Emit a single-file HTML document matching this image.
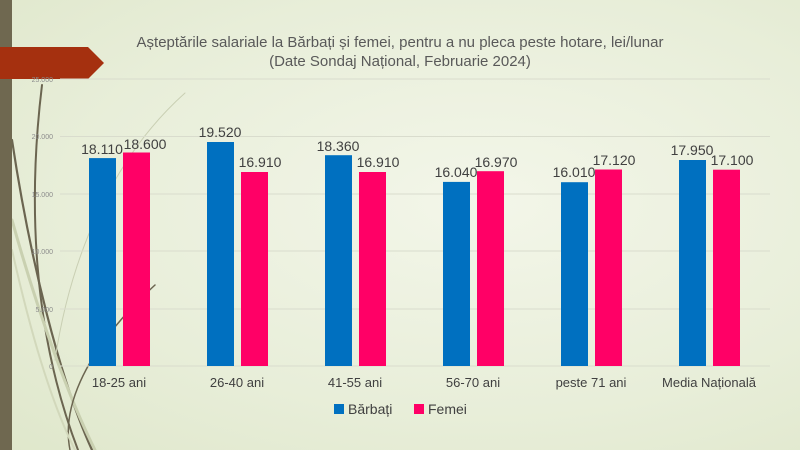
<!DOCTYPE html>
<html><head><meta charset="utf-8"><style>
body{margin:0;width:800px;height:450px;overflow:hidden;background:radial-gradient(ellipse at 60% 45%,#f3f6e9 0%,#e8eed9 60%,#dfe7cb 100%);font-family:"Liberation Sans",sans-serif;}
</style></head><body>
<svg width="800" height="450" style="position:absolute;left:0;top:0" font-family="Liberation Sans, sans-serif">
<g fill="none" stroke-linecap="round">
<path d="M12,140 C30,260 60,380 92,450" stroke="#6b6550" stroke-width="2.2"/>
<path d="M42,85 C28,200 32,330 78,450" stroke="#6b6550" stroke-width="2"/>
<path d="M12,220 C40,320 70,400 95,450" stroke="#c9d0b0" stroke-width="3"/>
<path d="M155,285 C95,340 60,400 70,450" stroke="#6b6550" stroke-width="1.5"/>
<path d="M185,93 C110,160 70,260 55,360" stroke="#c9cfb3" stroke-width="1"/>
<path d="M12,250 C30,330 50,400 75,450" stroke="#d2d8bb" stroke-width="2"/>
</g>
<rect x="0" y="0" width="12" height="450" fill="#6f6850"/>
<polygon points="0,47 88,47 104,63 88,79 0,79" fill="#a5300f"/>
<g stroke="#d9dccd" stroke-width="1">
<line x1="60" y1="79" x2="770" y2="79"/><line x1="60" y1="136.5" x2="770" y2="136.5"/>
<line x1="60" y1="194" x2="770" y2="194"/><line x1="60" y1="251" x2="770" y2="251"/>
<line x1="60" y1="309" x2="770" y2="309"/><line x1="60" y1="366" x2="770" y2="366"/>
</g>
<g font-size="7" fill="#8c8c8c" text-anchor="end">
<text x="53" y="82">25.000</text><text x="53" y="139">20.000</text><text x="53" y="197">15.000</text>
<text x="53" y="254">10.000</text><text x="53" y="312">5.000</text><text x="53" y="369">0</text>
</g>
<text x="400" y="47" font-size="15" fill="#595959" text-anchor="middle">Așteptările salariale la Bărbați și femei, pentru a nu pleca peste hotare, lei/lunar</text>
<text x="400" y="66" font-size="15" fill="#595959" text-anchor="middle">(Date Sondaj Național, Februarie 2024)</text>
<g id="bars" font-size="14" fill="#404040" text-anchor="middle">
<rect x="89" y="158.1" width="27" height="207.9" fill="#0070c0"/><rect x="123" y="152.5" width="27" height="213.5" fill="#ff0066"/>
<text x="102" y="154">18.110</text><text x="145" y="149">18.600</text>
<rect x="207" y="142" width="27" height="224" fill="#0070c0"/><rect x="241" y="172" width="27" height="194" fill="#ff0066"/>
<text x="220" y="137">19.520</text><text x="260" y="167">16.910</text>
<rect x="325" y="155.2" width="27" height="210.8" fill="#0070c0"/><rect x="359" y="172" width="27" height="194" fill="#ff0066"/>
<text x="338" y="151">18.360</text><text x="378" y="167">16.910</text>
<rect x="443" y="181.9" width="27" height="184.1" fill="#0070c0"/><rect x="477" y="171.2" width="27" height="194.8" fill="#ff0066"/>
<text x="456" y="177">16.040</text><text x="496" y="167">16.970</text>
<rect x="561" y="182.2" width="27" height="183.8" fill="#0070c0"/><rect x="595" y="169.5" width="27" height="196.5" fill="#ff0066"/>
<text x="574" y="177">16.010</text><text x="614" y="165">17.120</text>
<rect x="679" y="160" width="27" height="206" fill="#0070c0"/><rect x="713" y="169.7" width="27" height="196.3" fill="#ff0066"/>
<text x="692" y="155">17.950</text><text x="732" y="165">17.100</text>
</g>
<g font-size="13" fill="#404040" text-anchor="middle">
<text x="119" y="387">18-25 ani</text><text x="237" y="387">26-40 ani</text><text x="355" y="387">41-55 ani</text>
<text x="473" y="387">56-70 ani</text><text x="591" y="387">peste 71 ani</text><text x="709" y="387">Media Națională</text>
</g>
<rect x="334" y="404" width="10" height="10" fill="#0070c0"/><text x="348" y="414" font-size="14" fill="#404040">Bărbați</text>
<rect x="414" y="404" width="10" height="10" fill="#ff0066"/><text x="428" y="414" font-size="14" fill="#404040">Femei</text>
</svg>
</body></html>
